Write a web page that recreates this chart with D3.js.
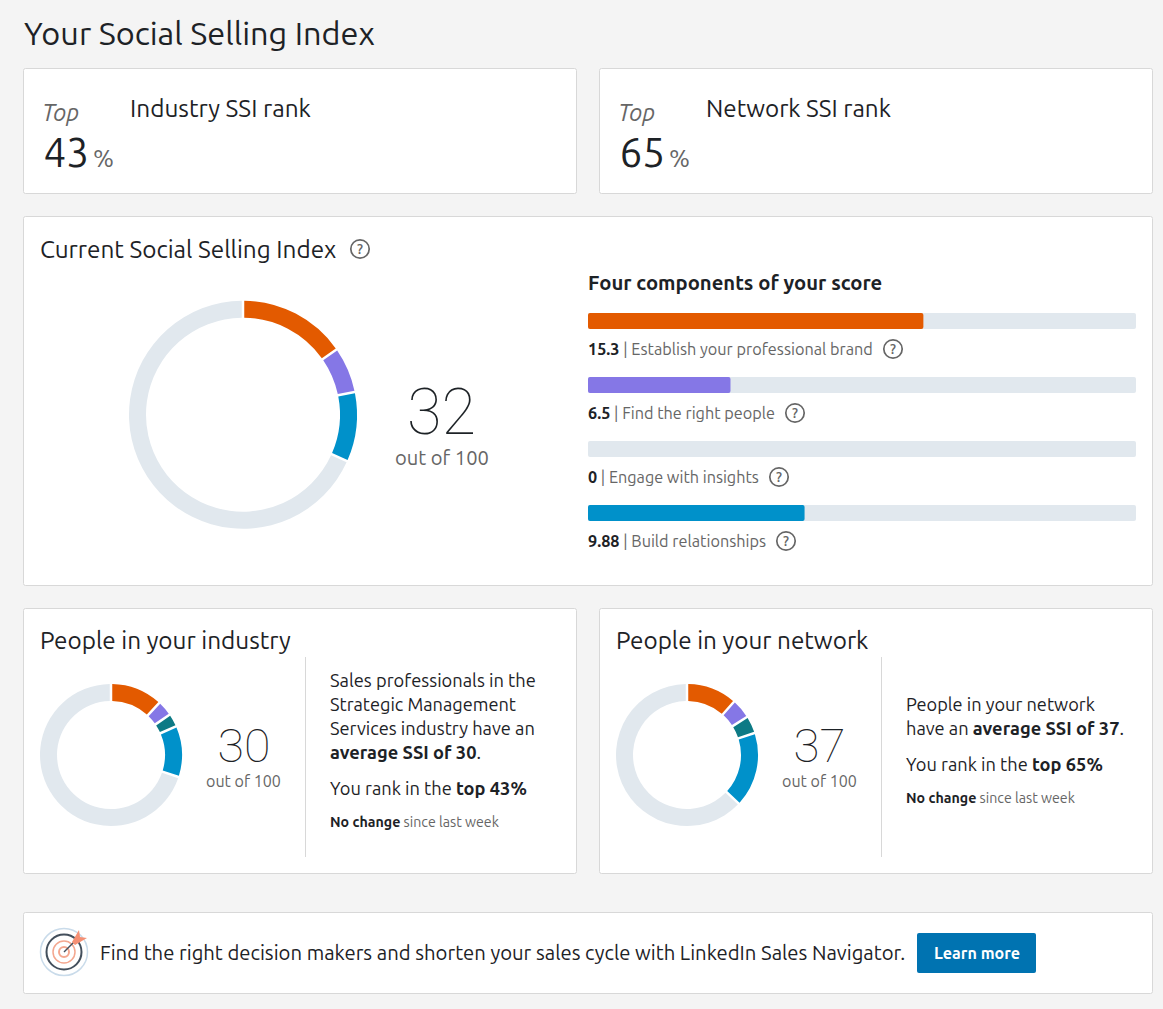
<!DOCTYPE html>
<html><head><meta charset="utf-8">
<script src="https://cdn.jsdelivr.net/npm/d3@7/dist/d3.min.js"></script>
<style>
html,body{margin:0;padding:0;background:#f4f4f4;overflow:hidden}
svg{display:block}
text{font-family:Ubuntu,"Noto Sans","Open Sans",sans-serif;white-space:pre}
</style></head><body>
<svg id="c" width="1163" height="1009"></svg>
<script>
const components = ["Establish your professional brand","Find the right people","Engage with insights","Build relationships"];
const yourScores = [15.3, 6.5, 0, 9.88];
const yourScoreLabels = ["15.3","6.5","0","9.88"];
const industryScores = [11.9, 3.5, 3.0, 11.6];
const networkScores = [11.5, 4.5, 4.0, 17.0];
const totals = [32, 30, 37];
const ranks = [43, 65];
const componentColors = ["#e35a00","#8577e6","#0d7a85","#0091ca"];
const trackColor = "#e1e8ee";
const barMax = 25, scoreMax = 100;

const svg = d3.select("#c");
const ink="#1d2226", grey="#666666";

function txt(x,y,size,end,segs,opt={}){
  const t=svg.append("text").attr("transform",`translate(${x},${y})`).attr("font-size",size);
  if(opt.style)t.attr("font-style",opt.style);
  if(opt.family)t.style("font-family",opt.family);
  segs.forEach(s=>{t.append("tspan").text(s.t).attr("fill",s.c||ink).attr("font-weight",s.w||400)});
  if(end!=null){const n=t.node().getComputedTextLength();
    t.attr("transform",`translate(${x},${y}) scale(${(end-x)/n},1)`);}
  return t;
}
function card(x,y,w,h){svg.append("rect").attr("x",x+.5).attr("y",y+.5).attr("width",w-1).attr("height",h-1).attr("rx",2)
  .attr("fill","#fff").attr("stroke","#d8d8d8");}
function help(cx,cy){const g=svg.append("g");
  g.append("circle").attr("cx",cx).attr("cy",cy).attr("r",9.2).attr("fill","none").attr("stroke",grey).attr("stroke-width",1.7);
  g.append("text").attr("x",cx).attr("y",cy+5.2).attr("text-anchor","middle").attr("font-size",14.5).attr("font-weight",500).attr("fill",grey).text("?");}
function donut(cx,cy,r,th,values,gap){
  const rows=values.map((v,i)=>({v,c:componentColors[i]}));
  const sum=d3.sum(values);
  rows.push({v:scoreMax-sum,c:trackColor});
  const pie=d3.pie().sort(null).value(d=>d.v);
  const arc=d3.arc().innerRadius(r-th).outerRadius(r).padAngle(gap/r).padRadius(r);
  svg.append("g").attr("transform",`translate(${cx},${cy})`).selectAll("path")
    .data(pie(rows).filter(d=>d.data.v>0)).join("path").attr("d",arc).attr("fill",d=>d.data.c);
}

svg.append("rect").attr("width",1163).attr("height",1009).attr("fill","#f4f4f4");
txt(24,45,31,375,[{t:"Your Social Selling Index"}]);

card(23,68,554,126);card(599,68,554,126);card(23,216,1130,370);card(23,608,554,266);card(599,608,554,266);card(23,912,1130,82);

[[43,130,311,"Industry SSI rank"],[619,706,891,"Network SSI rank"]].forEach(([x,lx,le,l],i)=>{
  txt(x-1,121,24,x+36,[{t:"Top",c:grey}],{style:"italic"});
  txt(x+0.5,167,41,x+46,[{t:String(ranks[i])}]);
  txt(x+50,167,24,x+71,[{t:"%",c:grey}]);
  txt(lx,117,23.5,le,[{t:l}]);
});

txt(40,258,23.5,336.5,[{t:"Current Social Selling Index"}]);
help(360,249);
donut(243,414.7,114,17,yourScores,2.5);
txt(407,434,65,476,[{t:String(totals[0]),w:100}],{family:"Roboto"});
txt(395,465,20,489,[{t:"out of 100",c:grey}]);

txt(588,290,20,882.5,[{t:"Four components of your score",w:700}]);
const barX=d3.scaleLinear().domain([0,barMax]).range([588,1136]);
const barTop=d3.scaleBand().domain(components).range([313,569]);
const barEnds=[873,775,759,766];
const bars=svg.append("g");
components.forEach((c,i)=>{
  const y=barTop(c);
  bars.append("rect").attr("x",barX(0)).attr("y",y).attr("width",barX(barMax)-barX(0)).attr("height",16).attr("rx",2).attr("fill",trackColor);
  if(yourScores[i]>0)bars.append("rect").attr("x",barX(0)).attr("y",y).attr("width",barX(yourScores[i])-barX(0)).attr("height",16).attr("rx",2).attr("fill",componentColors[i]);
  txt(588,y+42,16,barEnds[i],[{t:yourScoreLabels[i],w:700},{t:" | "+c,c:grey}]);
  help(barEnds[i]+20,y+36);
});

function side(title,x,end,scores,total,tx,te,ox,oe){
  txt(x,649,23.5,end,[{t:title}]);
  svg.append("line").attr("x1",x+265.5).attr("x2",x+265.5).attr("y1",657).attr("y2",857).attr("stroke","#d8d8d8");
  donut(x+71,755,71,17,scores,2.5);
  txt(tx,762,46,te,[{t:String(total),w:100}],{family:"Roboto"});
  txt(ox,787,16,oe,[{t:"out of 100",c:grey}]);
}
side("People in your industry",40,291,industryScores,totals[1],217.5,270.5,206,281);
side("People in your network",616,868.5,networkScores,totals[2],793.5,845.5,782,857);

txt(330,687,18,536,[{t:"Sales professionals in the"}]);
txt(330,711,18,516,[{t:"Strategic Management"}]);
txt(330,735,18,535,[{t:"Services industry have an"}]);
txt(330,759,18,481,[{t:"average SSI of "+totals[1],w:700},{t:"."}]);
txt(330,795,18,527,[{t:"You rank in the "},{t:"top "+ranks[0]+"%",w:700}]);
txt(330,827,14,499,[{t:"No change",w:700},{t:" since last week",c:grey}]);
txt(906,711,18,1095,[{t:"People in your network"}]);
txt(906,735,18,1124,[{t:"have an "},{t:"average SSI of "+totals[2],w:700},{t:"."}]);
txt(906,771,18,1103,[{t:"You rank in the "},{t:"top "+ranks[1]+"%",w:700}]);
txt(906,803,14,1075,[{t:"No change",w:700},{t:" since last week",c:grey}]);

const ic=svg.append("g").attr("transform","translate(64,952)").attr("fill","none");
ic.append("circle").attr("r",23.5).attr("stroke","#c9dbea").attr("stroke-width",1.5);
ic.append("circle").attr("r",17.5).attr("stroke","#434f5c").attr("stroke-width",2);
ic.append("circle").attr("r",11).attr("stroke","#f4a78f").attr("stroke-width",1.5);
ic.append("circle").attr("r",5).attr("stroke","#f4a78f").attr("stroke-width",2);
ic.append("line").attr("x1",0).attr("y1",0).attr("x2",12).attr("y2",-12).attr("stroke","#434f5c").attr("stroke-width",1.5);
ic.append("path").attr("d","M8,-10 L15,-22 L16,-15 L23,-14 L11,-7 Z").attr("fill","#f58f73");

txt(100,959.5,20,906,[{t:"Find the right decision makers and shorten your sales cycle with LinkedIn Sales Navigator."}]);
svg.append("rect").attr("x",917).attr("y",933).attr("width",119).attr("height",40).attr("rx",2).attr("fill","#0073b1");
txt(934,959,16,1020,[{t:"Learn more",c:"#fff",w:700}]);
</script></body></html>
